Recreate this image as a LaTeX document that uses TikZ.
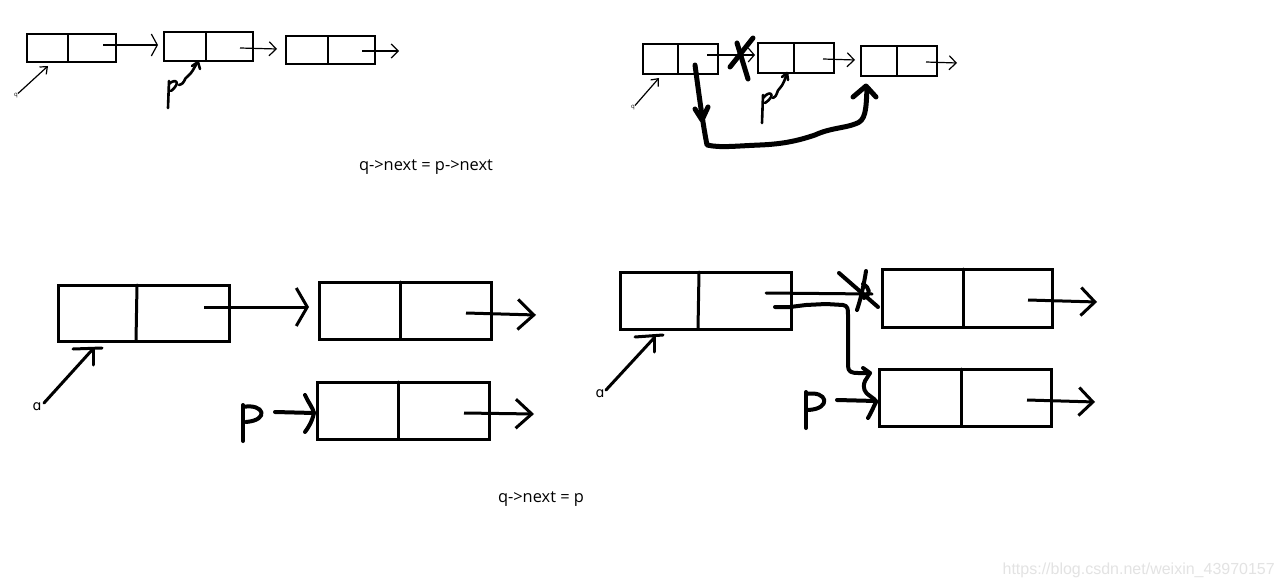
\documentclass[tikz,border=0pt]{standalone}
\usepackage{fontspec}
\setmainfont{Open Sans}
\newfontfamily\wmfont{Liberation Sans}
\newfontfamily\ipafont{DejaVu Sans}
\usetikzlibrary{arrows.meta}
\begin{document}
\begin{tikzpicture}[x=1pt,y=-1pt,
  thinbox/.style={draw,line width=1.2pt,inner sep=0pt,outer sep=0pt},
  thickbox/.style={draw,line width=3pt,inner sep=0pt,outer sep=0pt},
  thinline/.style={line width=1.2pt},
  thickline/.style={line width=3pt,line cap=round},
  tarrow/.style 2 args={line width=1.2pt,-{Straight Barb[length=#1pt,width=#2pt]}},
  barrow/.style 2 args={line width=3pt,-{Straight Barb[length=#1pt,width=#2pt]}},
  handthin/.style={line width=2.6pt,line cap=round,line join=round},
  handmid/.style={line width=4pt,line cap=round,line join=round},
  handthick/.style={line width=5pt,line cap=round,line join=round},
  lbl/.style={font=\fontsize{16.4}{19}\selectfont,inner sep=0pt}
]
\fill[white] (0,0) rectangle (1284,588);
\useasboundingbox (0,0) rectangle (1284,588);

% ---------------- top left ----------------
\node[thinbox,minimum width=89pt,minimum height=28pt] (a1) at (71.5,48) {};
\draw[thinline] (68,34) -- (68,62);
\node[thinbox,minimum width=89pt,minimum height=29pt] (a2) at (208.5,46.5) {};
\draw[thinline] (206,32) -- (206,61);
\node[thinbox,minimum width=89pt,minimum height=28pt] (a3) at (330.5,50) {};
\draw[thinline] (328,36) -- (328,64);
\coordinate (a1s) at (103,45); \coordinate (a1e) at (158,45);
\draw[tarrow={6}{22}] (a1s) -- (a1e);
\coordinate (a2s) at (240,48); \coordinate (a2e) at (277,49);
\draw[tarrow={7}{14}] (a2s) -- (a2e);
\coordinate (a3s) at (362,51); \coordinate (a3e) at (399,51);
\draw[tarrow={7}{14}] (a3s) -- (a3e);
\node[font=\fontsize{6}{7}\selectfont,inner sep=0pt] (qa) at (16,96) {q};
\coordinate (qae) at (48,66);
\draw[tarrow={6}{10}] (qa.north east) -- (qae);
% handwritten p
\draw[handthin] (169,81) -- (168,108);
\draw[handthin] (169,84) .. controls (175,78) and (182,82) .. (171,91);
\coordinate (pae) at (197,63);
\draw[handthin] (179,85) .. controls (186,83) and (183,79) .. (188,76) .. controls (192,73) and (194,68) .. (pae);
\draw[handthin] (192,66) -- (198,62) -- (200,69);

% ---------------- top right ----------------
\node[thinbox,minimum width=75pt,minimum height=30pt] (b1) at (680.5,59) {};
\draw[thinline] (678,44) -- (678,74);
\node[thinbox,minimum width=76pt,minimum height=30pt] (b2) at (796,58) {};
\draw[thinline] (794,43) -- (794,73);
\node[thinbox,minimum width=76pt,minimum height=30pt] (b3) at (899,61) {};
\draw[thinline] (897,46) -- (897,76);
\coordinate (b1s) at (707,55); \coordinate (b1e) at (755,55);
\draw[tarrow={6}{14}] (b1s) -- (b1e);
\coordinate (b2s) at (823,59); \coordinate (b2e) at (855,60);
\draw[tarrow={7}{14}] (b2s) -- (b2e);
\coordinate (b3s) at (926,62); \coordinate (b3e) at (957,63);
\draw[tarrow={7}{14}] (b3s) -- (b3e);
% cross
\draw[handthick] (730,67) -- (753,38);
\draw[handthick] (737,43) -- (748,79);
\node[font=\fontsize{6}{7}\selectfont,inner sep=0pt] (qb) at (633,108) {q};
\coordinate (qbe) at (659,78);
\draw[tarrow={6}{10}] (qb.north east) -- (qbe);
% handwritten p
\draw[handthin] (763,95) -- (762,123);
\draw[handthin] (763,98) .. controls (770,89) and (777,95) .. (765,103);
\coordinate (pbe) at (787,74);
\draw[handthin] (773,98) .. controls (778,96) and (776,91) .. (780,88) .. controls (783,85) and (785,79) .. (pbe);
\draw[handthin] (782,77) -- (787,73) -- (788,80);
% new link
\coordinate (nbs) at (695,65); \coordinate (nbe) at (867,88);
\draw[handthick] (nbs) .. controls (699,95) and (703,125) .. (707,145)
  .. controls (720,148) and (735,146) .. (760,145)
  .. controls (785,144) and (800,140) .. (815,135)
  .. controls (830,128) and (845,128) .. (855,124)
  .. controls (866,121) and (866,110) .. (nbe);
\draw[handthick] (695,109) -- (702,120) -- (708,107);
\draw[handthick] (853,97) -- (866,86) -- (876,97);

\node[lbl] (t1) at (426,167) {q->next = p->next};

% ---------------- bottom left ----------------
\node[thickbox,minimum width=171pt,minimum height=56pt] (c1) at (143.5,313) {};
\draw[thickline] (137,285) -- (136,341);
\node[thickbox,minimum width=172pt,minimum height=57pt] (c2) at (405,310.5) {};
\draw[thickline] (400,282) -- (400,339);
\node[thickbox,minimum width=172pt,minimum height=57pt] (c3) at (403,410.5) {};
\draw[thickline] (398,382) -- (398,439);
\coordinate (c1s) at (204,307); \coordinate (c1e) at (309,307);
\draw[barrow={11}{38}] (c1s) -- (c1e);
\coordinate (c2s) at (466,313); \coordinate (c2e) at (536,315);
\draw[barrow={16}{30}] (c2s) -- (c2e);
\coordinate (c3s) at (464,413); \coordinate (c3e) at (534,414);
\draw[barrow={16}{29}] (c3s) -- (c3e);
\node[font=\ipafont\fontsize{14}{16}\selectfont,inner sep=0pt] (qc) at (37,407) {ɑ};
\coordinate (qce) at (92,350);
\draw[thickline] (44,403) -- (qce);
\draw[thickline] (73,349) -- (102,348);
\draw[thickline] (93,350) -- (93,365);
% handwritten P
\draw[handmid] (243,405) -- (243,441);
\draw[handmid] (243,407) .. controls (264,403) and (270,420) .. (246,422);
\coordinate (pcs) at (275,412); \coordinate (pce) at (314,413);
\draw[handmid] (pcs) -- (pce);
\draw[handmid] (305,395) .. controls (308,402) and (313,408) .. (314,413) .. controls (312,422) and (308,428) .. (305,432);

% ---------------- bottom right ----------------
\node[thickbox,minimum width=171pt,minimum height=57pt] (d1) at (705.5,300.5) {};
\draw[thickline] (699,272) -- (698,329);
\node[thickbox,minimum width=170pt,minimum height=58pt] (d2) at (967,298) {};
\draw[thickline] (963,269) -- (963,327);
\node[thickbox,minimum width=172pt,minimum height=57pt] (d3) at (965,397.5) {};
\draw[thickline] (961,369) -- (961,426);
\coordinate (d2s) at (1028,300); \coordinate (d2e) at (1097,302);
\draw[barrow={14}{28}] (d2s) -- (d2e);
\coordinate (d3s) at (1027,400); \coordinate (d3e) at (1095,402);
\draw[barrow={14}{28}] (d3s) -- (d3e);
% old link, crossed
\coordinate (d1s) at (766,293); \coordinate (d1e) at (872,294);
\draw[thickline] (d1s) -- (d1e);
\draw[handmid] (839,273) -- (878,307);
\draw[handmid] (866,271) .. controls (864,284) and (861,298) .. (857,310);
\draw[handmid] (863,284) .. controls (870,288) and (871,294) .. (864,298);
% new link
\coordinate (dns) at (775,307); \coordinate (dne) at (870,373);
\draw[handmid] (dns) -- (790,307) -- (806,305) -- (826,304) -- (843,305)
  .. controls (848,306) and (848,309) .. (848,315) -- (848,366)
  .. controls (848,372) and (852,373) .. (858,373) -- (dne);
\draw[handmid] (863,368) -- (870,373) -- (865,381);
% handwritten P
\draw[handmid] (806,392) -- (806,428);
\draw[handmid] (806,394) .. controls (828,390) and (832,409) .. (808,410);
\coordinate (pds) at (837,400); \coordinate (pde) at (876,401);
\draw[handmid] (pds) -- (pde);
\draw[handmid] (865,381) .. controls (862,388) and (865,393) .. (870,396) .. controls (874,399) and (876,400) .. (876,402) .. controls (873,408) and (871,413) .. (868,418);
\node[font=\ipafont\fontsize{14}{16}\selectfont,inner sep=0pt] (qd) at (600,394) {ɑ};
\coordinate (qde) at (654,338);
\draw[thickline] (606,390) -- (qde);
\draw[thickline] (635,337) -- (663,335);
\draw[thickline] (654,337) -- (654,352);

\node[lbl] (t2) at (541,499) {q->next = p};

\node[font=\wmfont\fontsize{16}{18}\selectfont,text=black!11,anchor=east,inner sep=0pt] (wm) at (1275,570) {https://blog.csdn.net/weixin\_43970157};
\end{tikzpicture}
\end{document}
